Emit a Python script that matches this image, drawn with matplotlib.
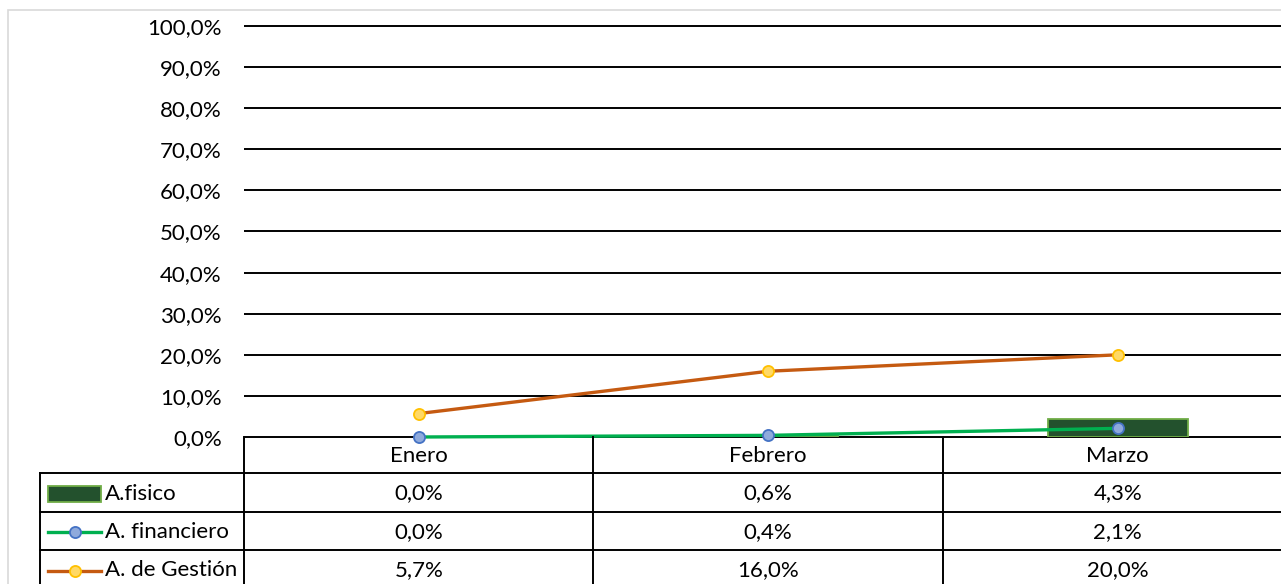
import numpy as np
import matplotlib
matplotlib.use("Agg")
from matplotlib import pyplot as plt
from matplotlib.patches import Rectangle

# datos
meses = ["Enero", "Febrero", "Marzo"]
a_fisico = [0.0, 0.6, 4.3]
a_financiero = [0.0, 0.4, 2.1]
a_gestion = [5.7, 16.0, 20.0]
nombres = ["A.fisico", "A. financiero", "A. de Gestión"]
y_ticks = np.arange(0, 101, 10)

plt.rcParams['font.family'] = ['Lato', 'DejaVu Sans']
fs = 16

W, H = 1281, 584
fig = plt.figure(figsize=(W / 100, H / 100), dpi=100)

def fx(px):
    return px / W

def fy(py):
    return 1 - py / H

# layout in pixels
x_left, cat_w = 244, 349.5
x_right = x_left + 3 * cat_w
y_top, y_zero = 26, 437
tab_left = 40
row_edges = [437, 473, 512, 550, 589]

def px2cat(px):
    return -0.5 + (px - x_left) / cat_w

def pct(v):
    return ("%.1f%%" % v).replace(".", ",")

# chart frame
fig.add_artist(Rectangle((fx(8), fy(600)), fx(1400), fy(10) - fy(600),
                         transform=fig.transFigure, fill=False,
                         edgecolor="#d9d9d9", lw=1.2))

ax = fig.add_axes([fx(x_left), fy(y_zero), fx(x_right) - fx(x_left),
                   fy(y_top) - fy(y_zero)])
x = np.arange(len(meses))
ax.set_xlim(-0.5, 2.5)
ax.set_ylim(0, 100)
for s in ax.spines.values():
    s.set_visible(False)
ax.set_xticks([])
ax.set_yticks(y_ticks)
ax.set_yticklabels([pct(v) for v in y_ticks], fontsize=fs)
ax.tick_params(axis="y", length=0, pad=16)
ax.hlines(y_ticks, -0.5, 2.5, colors="black", lw=1.4, clip_on=False, zorder=1)

ax.bar(x, a_fisico, width=0.4, color="#23512d", edgecolor="#70ad47",
       lw=[1.3 if v > 0 else 0 for v in a_fisico], zorder=2)
ax.plot(x, a_financiero, color="#00b050", lw=2.4, marker="o", ms=8,
        mfc="#8faadc", mec="#4472c4", mew=1.3, zorder=4, clip_on=False)
ax.plot(x, a_gestion, color="#c55a11", lw=2.4, marker="o", ms=8,
        mfc="#ffd966", mec="#ffc000", mew=1.3, zorder=3, clip_on=False)

# tabla de datos
tb = fig.add_axes([fx(tab_left), fy(row_edges[-1]), fx(x_right) - fx(tab_left),
                   fy(row_edges[0]) - fy(row_edges[-1])])
tb.set_xlim(px2cat(tab_left), 2.5)
tb.set_ylim(row_edges[-1], row_edges[0])
tb.axis("off")
lab_left = px2cat(tab_left)
lw_t = 1.4
for ye in row_edges[1:]:
    tb.plot([lab_left, 2.5], [ye, ye], color="black", lw=lw_t, clip_on=False)
for xe in [-0.5, 0.5, 1.5, 2.5]:
    tb.plot([xe, xe], [row_edges[0], row_edges[-1]], color="black", lw=lw_t, clip_on=False)
tb.plot([lab_left, lab_left], [row_edges[1], row_edges[-1]], color="black", lw=lw_t, clip_on=False)

def ymid(r):
    return (row_edges[r] + row_edges[r + 1]) / 2 + 1

for i, m in enumerate(meses):
    tb.text(i, ymid(0), m, ha="center", va="center", fontsize=fs)

valores = [a_fisico, a_financiero, a_gestion]
for r, serie in enumerate(valores):
    for i, v in enumerate(serie):
        tb.text(i, ymid(r + 1), pct(v), ha="center", va="center", fontsize=fs)

# claves de leyenda
k0, k1 = px2cat(48), px2cat(101)
tb.add_patch(Rectangle((k0, ymid(1) - 8), k1 - k0, 16, facecolor="#23512d",
                       edgecolor="#70ad47", lw=1.3))
tb.plot([k0, k1], [ymid(2)] * 2, color="#00b050", lw=2.4)
tb.plot([(k0 + k1) / 2], [ymid(2)], marker="o", ms=8, mfc="#8faadc", mec="#4472c4", mew=1.3)
tb.plot([k0, k1], [ymid(3)] * 2, color="#c55a11", lw=2.4)
tb.plot([(k0 + k1) / 2], [ymid(3)], marker="o", ms=8, mfc="#ffd966", mec="#ffc000", mew=1.3)
for r, nm in enumerate(nombres):
    tb.text(px2cat(105), ymid(r + 1), nm, ha="left", va="center", fontsize=fs)

fig.savefig("out.png", dpi=100)
